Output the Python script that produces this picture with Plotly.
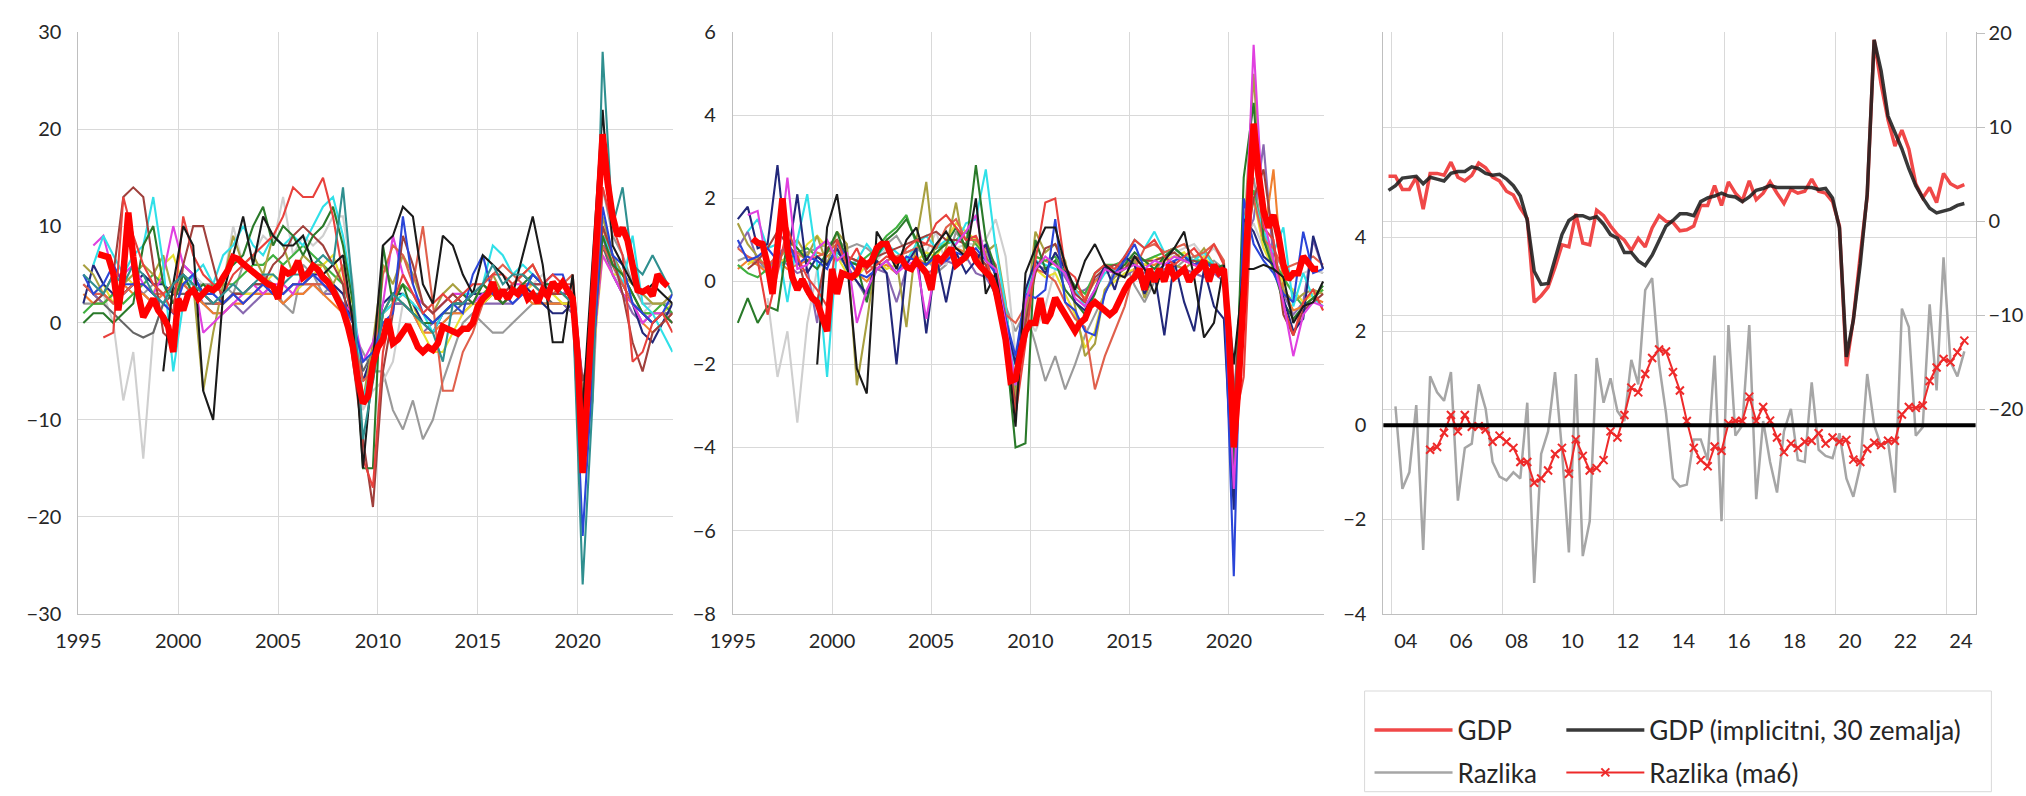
import plotly.graph_objects as go

# ---------------- data ----------------
YEARS = list(range(1995, 2025))
HALF_X = [y + h for y in YEARS for h in (0.25, 0.75)]          # semi-annual points
Q_X = [1996 + k / 4 for k in range(115)]                        # 1996Q1 .. 2024Q3

P1_TICKS = [1995, 2000, 2005, 2010, 2015, 2020]
P1_TICKTEXT = ["1995", "2000", "2005", "2010", "2015", "2020"]

# Panel 1: y/y growth by country (semi-annual readings)
p1_black = [None, None, None, None, None, None, None, None, -5, 4,
            10, 8, -7, -10, 3, 7, 11, 6, 11, 9,
            8, 8, 9, 6, 5, 6, 7, 0, -15, -4,
            8, 9, 12, 11, 4, 2, 9, 8, 5, 3,
            7, 6, 5, 3, 7, 11, 6, -2, -2, 5,
            -9, 6, 22, 8, 6, 4, 3, 4, 3, 2]
p1_teal = [5, 4, 3, 5, 4, 6, 5, 3, 2, 4,
           5, 4, 3, 2, 3, 4, 3, 4, 5, 5,
           4, 5, 5, 6, 7, 6, 14, 3, -12, -6,
           1, 3, 2, 1, 0, -1, -4, 2, 2, 3,
           4, 6, 4, 5, 5, 4, 3, 4, 3, 2,
           -27, -8, 28, 10, 14, 6, 5, 7, 5, 3]
p1_blue = [5, 3, 4, 6, 4, 4, 4, 3, 2, 1,
           4, 5, 3, 3, 2, 3, 2, 3, 4, 3,
           3, 4, 4, 5, 4, 3, 2, 0, -4, -3,
           0, 1, 11, 4, 1, 0, 1, 2, 1, 5,
           7, 3, 3, 2, 3, 5, 4, 5, 5, 2,
           -22, -5, 12, 7, 6, 2, 1, 0, 1, 3]
p1_red = [None, None, -1.5, -1, 13, 9, 6, 4, 3, 1,
          11, 7, 5, 4, 3, 5, 6, 7, 8, 9,
          11, 14, 13, 13, 15, 11, 5, 0, -14, -17,
          -3, 2, 5, 3, 1, 2, 3, 2, 3, 4,
          4, 5, 5, 4, 5, 6, 4, 5, 4, 4,
          -10, -2, 14, 10, 7, -4, -3, 0, 1, -1]
p1_tomato = [4, 3, 3, 2, 3, 4, 4, 3, 3, 4,
             4, 3, 3, 2, 2, 3, 2, 3, 4, 4,
             3, 4, 4, 4, 4, 3, 2, -1, -6, -5,
             5, 8, 7, 4, 10, 2, -7, -7, -3, -1,
             2, 5, 6, 5, 4, 4, 3, 3, 4, 5,
             -7, -3, 8, 6, 4, 2, 1, 0, 1, 0]
p1_brown = [None, 2, 3, 5, 13, 14, 13, 6, -1, -2,
            6, 10, 10, 6, 2, 3, 3, 4, 4, 6,
            7, 9, 10, 9, 8, 6, 4, -4, -12, -19,
            -5, 1, 9, 6, 2, 1, 2, 3, 2, 3,
            4, 3, 3, 4, 5, 4, 4, 3, 3, 3,
            -6, -2, 10, 7, 3, -2, -5, -1, 0, 1]
p1_dgreen = [0, 1, 1, 0, 1, 2, 8, 10, 4, 2,
             5, 3, 4, 3, 5, 6, 7, 10, 12, 8,
             10, 9, 7, 9, 10, 12, 8, 2, -15, -15,
             8, 2, 4, 1, 0, 0, 1, 2, 3, 2,
             4, 3, 2, 3, 4, 5, 4, 4, 4, 3,
             -8, -2, 9, 6, 5, 3, 1, 0, 1, 0]
p1_cyan = [None, 6, 9, 7, 5, 7, 8, 13, 6, -5,
           2, 5, 6, 4, 7, 8, 10, 8, 7, 9,
           8, 9, 8, 10, 12, 13, 9, 3, -8, -4,
           1, 2, 3, 2, 1, -1, 1, 2, 3, 3,
           4, 8, 7, 5, 6, 5, 4, 4, 4, 3,
           -9, -3, 9, 7, 4, 9, 2, 1, -1, -3]
p1_magenta = [None, 8, 9, 5, 5, 6, 4, 3, 5, 10,
              6, 5, -1, 0, 1, 2, 3, 4, 3, 4,
              4, 3, 5, 6, 4, 3, 2, 1, -4, -2,
              2, 9, 5, 3, 2, 1, 2, 3, 3, 2,
              3, 3, 3, 4, 4, 4, 4, 3, 3, 4,
              -6, -3, 7, 5, 3, 2, 0, 1, 1, 0]
p1_lgray = [None, None, 3, 0, -8, -3, -14, -1, 2, 3,
            4, 5, 4, 3, 4, 10, 6, 7, 9, 8,
            13, 7, 9, 8, 9, 11, 11, 4, -9, -7,
            -6, -4, 2, 1, 0, -1, 1, 2, 3, 4,
            4, 3, 3, 4, 4, 4, 5, 3, 4, 3,
            -8, -3, 8, 6, 3, 2, 1, 2, 2, 1]
p1_gray = [2, 2, 3, 2, 3, 4, 3, 4, 3, 4,
           4, 4, 4, 4, 4, 3, 6, 5, 5, 4,
           2, 1, 6, 5, 3, 4, 2, -1, -3, -5,
           -5, -9, -11, -8, -12, -10, -6, -3, 0, 1,
           0, -1, -1, 0, 1, 2, 2, 2, 2, 1,
           -14, -8, 14, 9, 7, 4, 2, 2, 2, 2]
p1_olive = [6, 5, 3, 2, 4, 5, 6, 5, 7, 3,
            5, 4, -7, -1, 4, 9, 6, 7, 5, 9,
            8, 5, 7, 6, 6, 4, 6, 0, -8, -2,
            6, 4, 7, 5, 2, 1, 3, 4, 3, 2,
            4, 5, 3, 4, 5, 6, 4, 3, 3, 2,
            -10, -4, 11, 7, 5, 4, 3, 2, 2, 3]
p1_yellow = [None, 3, 4, 2, 5, 4, 4, 3, 6, 7,
             4, 3, 3, 2, 2, 3, 3, 3, 4, 5,
             4, 3, 4, 5, 6, 7, 4, 2, -8, -5,
             1, 2, 3, 2, -1, -3, -3, -1, 1, 2,
             2, 3, 2, 3, 3, 4, 3, 3, 2, 2,
             -9, -4, 7, 5, 5, 3, 1, 1, 1, 2]
p1_purple = [4, 3, 2, 3, 3, 4, 3, 2, 3, 4,
             5, 4, 2, 1, 1, 2, 1, 2, 3, 3,
             2, 3, 3, 4, 3, 3, 1, -2, -6, -4,
             1, 2, 2, 1, -1, 0, 0, 1, 1, 2,
             2, 2, 2, 2, 3, 3, 2, 2, 2, 1,
             -11, -3, 9, 5, 3, 1, 0, 1, 1, 1]
p1_orange = [3, 2, 2, 3, 4, 3, 3, 2, 3, 4,
             4, 3, 2, 1, 1, 2, 2, 3, 3, 3,
             2, 3, 3, 4, 3, 2, 1, -1, -6, -5,
             1, 3, 2, 1, -1, -1, 0, 1, 1, 2,
             2, 3, 2, 3, 3, 2, 2, 2, 2, 2,
             -12, -4, 10, 6, 4, 2, 0, -1, 0, 1]
p1_navy = [2, 6, 4, 3, 3, 4, 5, 4, 4, 3,
           6, 5, 3, 2, 2, 3, 3, 4, 4, 3,
           3, 4, 4, 5, 5, 4, 3, 0, -6, -3,
           2, 3, 3, 2, 0, -1, 1, 2, 2, 3,
           3, 3, 2, 3, 4, 3, 2, 1, 1, 2,
           -10, -3, 8, 6, 4, 2, -1, -2, 0, 2]
p1_green = [1, 2, 2, 3, 2, 3, 4, 5, 4, 3,
            4, 5, 3, 4, 4, 4, 5, 6, 6, 7,
            6, 7, 8, 7, 6, 5, 4, 1, -8, -6,
            1, 3, 4, 3, 1, 0, 1, 2, 2, 3,
            3, 4, 3, 4, 5, 4, 4, 4, 4, 3,
            -7, -2, 9, 7, 5, 3, 1, 1, 2, 1]
p1_dgray = [None, 3, 2, 1, 0, -1, -1.5, -1, 2, 3,
            3, 3, 2, 2, 2, 3, 3, 3, 3, 4,
            3, 4, 4, 4, 4, 3, 2, 0, -5, -3,
            1, 2, 2, 1, 0, 0, 1, 1, 2, 2,
            2, 3, 3, 3, 3, 3, 3, 2, 2, 2,
            -8, -3, 8, 5, 3, 2, 1, 1, 1, 1]

# Panel 1: aggregate GDP y/y (quarterly, 1996Q1 .. 2024Q3)
p1_gdp = [7.1, 6.9, 6.8, 5.1, 1.3, 5.1, 11.4, 6.8, 3.0, 0.6, 1.7, 2.5,
          1.3, 0.6, -0.4, -3.0, 2.5, 1.3, 3.0, 3.4, 2.5, 3.0, 3.6, 3.4,
          3.8, 4.7, 5.5, 6.8, 6.6, 6.1, 5.7, 5.1, 4.9, 4.4, 4.0, 3.8,
          2.5, 5.5, 5.1, 5.3, 6.4, 4.7, 5.1, 5.9, 5.5, 4.7, 4.2, 3.4,
          2.5, 1.3, -0.4, -2.5, -5.9, -8.3, -7.6, -4.2, -2.5, -1.7, 0.4, -2.1,
          -1.7, -0.8, -0.2, -1.3, -2.5, -3.0, -2.5, -2.8, -2.1, -0.4, -0.6, -0.8,
          -1.1, -0.6, -0.6, 0.0, 1.7, 2.5, 3.0, 4.2, 2.5, 3.4, 2.5, 3.4,
          3.0, 3.8, 2.5, 3.0, 2.1, 3.4, 2.8, 4.2, 3.5, 4.2, 3.3, 2.5,
          -3.5, -15.5, -7.0, 2.0, 11.0, 19.5, 14.5, 11.0, 9.0, 9.8, 8.5, 5.5,
          3.4, 3.2, 3.5, 2.8, 5.0, 4.3, 3.8]

# Panel 2: q/q growth by country (semi-annual readings)
p2_black = [None, None, None, None, None, None, None, None, -2.0, 1.3,
            2.1, 0.5, -2.1, -2.7, 1.2, 0.8, 0.3, 1.0, 1.3, 0.5,
            0.9, 1.2, 0.8, 0.6, 2.0, -0.3, 0.2, -1.2, -3.5, 0.2,
            0.8, 1.3, 1.3, 0.4, -0.2, 0.5, 0.9, 0.4, 0.2, 0.1,
            0.6, 0.3, -0.3, 0.5, 0.8, 1.2, 0.1, -1.35, -1.0, 0.4,
            -2.0, 0.3, 0.3, 0.4, 0.3, 0.1, -1.0, -0.6, -0.5, 0.0]
p2_navy = [1.5, 1.8, 0.8, 0.9, 2.8, 0.5, 2.1, 0.2, 0.6, 0.4,
           0.8, 0.3, 0.0, -0.3, 0.5, 0.2, -2.0, 0.4, 0.8, -1.25,
           0.6, -0.5, 0.7, 0.2, 0.5, 0.9, 0.1, -0.9, -2.0, -0.2,
           0.5, 0.2, 0.7, 0.3, -0.5, -0.7, -0.2, 0.4, -0.2, 0.6,
           0.4, -0.3, 0.2, -1.3, 0.5, -0.5, -1.2, 0.3, -0.6, -0.9,
           -5.5, 1.5, 1.2, 0.6, 0.4, -0.4, -1.2, -0.9, 1.1, 0.3]
p2_blue = [1.0, 0.5, 0.6, 0.8, 0.5, 1.0, 0.4, 0.6, 0.5, 0.3,
           0.9, 0.6, 0.2, 0.1, 0.3, 0.5, 0.2, 0.6, 0.5, 0.4,
           0.6, 0.5, 0.7, 0.6, 0.8, 0.5, 0.2, -0.9, -1.8, -0.3,
           -0.4, -0.2, 1.5, -0.5, -0.7, -1.2, -1.3, -0.3, 0.2, 0.5,
           0.9, 0.3, 0.2, 0.4, 0.5, 0.6, 0.4, 0.5, 0.3, 0.1,
           -7.1, 2.0, 0.9, 0.5, 0.2, -0.3, -0.5, 1.2, 0.2, 0.3]
p2_magenta = [None, 1.6, 1.7, 0.3, 0.4, 2.5, 0.3, 0.4, 0.8, 1.0,
              0.5, 0.7, -1.0, -0.2, 0.3, 0.5, 0.2, 0.4, 0.5, -0.9,
              0.4, 0.6, 0.9, 1.2, 1.6, 0.5, 0.3, -1.0, -2.5, -0.5,
              0.3, 0.6, 0.4, 0.2, -0.4, -0.6, -0.2, 0.3, 0.2, 0.3,
              0.4, 0.3, 0.5, 0.4, 0.6, 0.5, 0.4, 0.3, 0.2, 0.3,
              -5.0, 0.0, 5.7, 1.5, 0.5, -0.5, -1.8, -0.8, -0.5, -0.6]
p2_cyan = [None, 1.2, 1.5, 0.8, 0.9, -0.5, 1.0, 2.1, 0.4, -2.3,
           0.8, 0.3, 0.5, 0.9, 0.6, 0.9, 0.7, 0.5, 0.9, 1.1,
           0.8, 1.0, 0.9, 1.4, 1.5, 2.7, 0.8, -0.6, -2.5, -0.3,
           0.5, 0.4, 0.3, 0.2, -0.2, -0.6, -0.2, 0.2, 0.3, 0.6,
           1.0, 0.8, 1.2, 0.7, 0.8, 0.6, 0.5, 0.7, 0.4, 0.3,
           -4.0, 1.5, 2.0, 1.2, 0.7, 1.3, -0.6, 0.2, -0.4, -0.6]
p2_lgray = [None, None, None, -0.4, -2.3, -1.2, -3.4, -1.0, 0.3, 0.5,
            0.6, 0.4, 0.5, 0.3, 0.5, 0.8, 0.6, 0.4, 0.9, 0.7,
            1.2, 0.4, 0.8, 0.9, 0.9, 1.0, 1.5, 0.6, -1.8, -0.8,
            -1.2, -0.6, 0.3, 0.2, -0.2, -0.4, 0.2, 0.3, 0.4, 0.5,
            0.7, 0.5, 0.6, 0.5, 0.7, 0.8, 0.9, 0.6, 0.8, 0.5,
            -3.0, 1.0, 1.4, 0.8, 0.4, 0.3, 0.1, 0.2, 0.3, 0.2]
p2_gray = [0.5, 0.6, 0.4, 0.3, 0.7, 0.8, 0.6, 0.7, 0.8, 0.9,
           1.0, 0.8, 0.9, 0.8, 0.6, 0.9, 1.1, 0.7, 0.8, 0.6,
           0.2, 0.4, 1.2, 0.8, 0.5, 0.7, 0.3, -0.6, -1.2, -0.7,
           -1.5, -2.4, -1.8, -2.6, -2.0, -1.3, -0.8, -0.3, 0.3, 0.5,
           -0.1, -0.5, 0.0, 0.3, 0.3, 0.5, 0.6, 0.4, 0.5, 0.3,
           -4.5, 1.5, 2.5, 1.0, 0.7, 0.3, 0.1, 0.5, 0.3, 0.2]
p2_red = [None, None, 0.5, -0.8, 0.2, 1.3, 0.6, 0.1, -0.2, -0.6,
          1.0, 0.4, 0.8, 0.2, 0.4, 0.6, 0.5, 0.8, 1.0, 0.9,
          1.4, 1.6, 1.3, 1.0, 1.1, 0.6, -0.3, -1.3, -3.2, -1.5,
          0.5, 1.9, 2.0, 0.3, 0.1, -0.5, 0.2, 0.4, 0.3, 0.6,
          1.0, 0.8, 1.0, 0.6, 0.4, 0.6, 0.8, 0.5, 0.9, 0.4,
          -3.5, -2.3, 3.0, 1.3, 1.0, -0.6, -1.3, -0.5, -0.2, -0.7]
p2_tomato = [0.8, 0.6, 0.5, 0.4, 0.6, 0.8, 0.7, 0.5, 0.6, 0.7,
             0.9, 0.6, 0.5, 0.4, 0.3, 0.5, 0.6, 0.7, 0.8, 0.9,
             0.8, 1.3, 1.5, 1.0, 1.0, 0.8, 0.4, -0.8, -1.0, -0.6,
             0.3, 0.2, 0.0, -0.5, -0.9, -1.1, -2.6, -1.8, -1.2, -0.6,
             0.3, 0.8, 0.9, 0.7, 0.8, 0.9, 0.6, 0.7, 0.9, 0.5,
             -4.0, 1.0, 2.0, 1.0, 0.8, 0.3, 0.4, 0.5, 0.6, 0.4]
p2_dgreen = [-1.0, -0.4, -1.0, -0.6, -0.7, 1.0, 0.8, 0.5, 0.3, 0.7,
             1.2, 0.5, 0.4, -0.5, 0.6, 1.0, 1.2, 1.5, 1.0, 0.4,
             0.7, 0.9, 1.3, 0.8, 2.8, 1.0, 0.3, -1.5, -4.0, -3.9,
             1.0, 0.3, 0.5, -0.2, -0.5, -0.8, -0.3, 0.4, 0.2, 0.4,
             0.7, 0.5, 0.3, 0.6, 0.8, 0.6, 0.4, 0.5, 0.3, 0.4,
             -4.5, 2.5, 4.3, 1.0, 0.3, -0.5, -0.9, -0.6, -0.4, -0.1]
p2_olive = [1.4, 0.9, 0.6, 0.3, 0.5, 0.8, 1.0, 0.6, 1.1, 0.4,
            1.2, 0.9, -2.5, -1.0, 0.7, 1.0, 0.5, -1.1, 1.0, 2.4,
            0.2, 0.8, 1.9, 0.5, 1.0, 0.7, 0.9, -0.5, -2.8, -1.0,
            1.2, 0.7, 0.9, 0.5, -0.6, -1.8, -1.5, -0.2, 0.1, 0.3,
            0.5, -0.4, 0.2, 0.6, 0.4, 0.3, 0.5, 0.8, 0.4, 0.2,
            -4.0, 1.0, 5.0, 1.2, 0.4, -0.2, -0.5, -0.3, -0.2, -0.3]
p2_yellow = [None, 0.4, 0.6, 0.3, 0.4, 0.6, 0.5, 0.9, 1.1, 0.8,
             0.6, 0.2, 0.1, 0.4, 0.5, 0.3, 0.4, 0.6, 0.5, 0.7,
             0.6, 1.0, 1.4, 1.2, 1.0, 0.6, 0.2, -0.7, -3.2, -1.0,
             0.3, 0.1, 0.2, -0.3, -0.8, -1.6, -1.2, -0.2, 0.0, 0.2,
             0.3, 0.4, 0.6, 0.5, 0.6, 0.7, 0.4, 0.6, 0.3, 0.2,
             -3.5, 0.8, 2.0, 0.8, 0.3, 0.0, -0.2, -0.5, -0.3, -0.2]
p2_purple = [0.8, 1.2, 0.5, 0.3, 0.6, 0.4, 0.2, 0.3, -1.0, 0.8,
             0.6, 0.4, 0.0, -0.4, 0.3, 0.2, -0.5, 0.3, 0.4, 0.2,
             0.3, 0.5, 0.4, 0.6, 0.2, 0.1, -0.3, -1.2, -2.0, -0.3,
             0.4, 0.3, 0.5, 0.1, -0.3, -0.2, 0.0, 0.3, 0.2, 0.1,
             0.3, 0.2, 0.2, 0.3, 0.4, 0.3, 0.2, 0.1, 0.2, 0.0,
             -3.0, 1.0, 1.5, 3.3, 0.5, -0.3, -0.8, -0.5, 1.0, 0.3]
p2_orange = [0.3, 0.5, 0.4, 0.2, 0.5, 0.3, 0.4, 0.5, 0.7, 0.6,
             0.8, 0.5, 0.2, 0.0, 0.3, 0.4, 0.2, 0.5, 0.6, 0.4,
             0.5, 0.6, 0.8, 0.7, 0.6, 0.4, 0.0, -0.8, -3.0, -0.7,
             0.6, 0.5, 0.4, 0.2, -0.2, -0.4, 0.0, 0.2, 0.3, 0.4,
             0.5, 0.4, 0.4, 0.5, 0.6, 0.5, 0.4, 0.3, 0.3, 0.2,
             -4.5, 1.2, 2.0, 1.0, 2.7, -0.2, -0.7, -0.6, -0.4, -0.5]
p2_brown = [None, 0.3, 0.5, 0.8, 1.2, 0.9, 0.6, -0.3, -0.5, 0.8,
            1.0, 0.6, 0.5, 0.3, 0.6, 0.7, 0.8, 0.9, 1.0, 1.1,
            1.2, 1.0, 1.0, 0.9, 0.7, 0.4, -0.4, -1.3, -3.0, -1.0,
            0.2, 0.8, 0.9, 0.3, -0.3, -0.5, 0.1, 0.3, 0.4, 0.3,
            0.6, 0.5, 0.5, 0.6, 0.7, 0.5, 0.5, 0.4, 0.4, 0.3,
            -3.0, 0.5, 2.0, 2.7, 1.0, -0.8, -1.3, -0.7, -0.5, -0.3]
p2_green = [0.4, 0.2, 0.1, 0.3, 0.4, 0.5, 0.7, 0.8, 0.6, 0.4,
            0.7, 0.5, 0.4, 0.6, 0.8, 1.1, 1.3, 1.6, 0.9, 0.6,
            0.8, 0.9, 1.0, 1.2, 0.9, 0.6, 0.2, -0.9, -2.6, -0.6,
            0.6, 0.5, 0.6, 0.2, -0.1, -0.3, 0.2, 0.4, 0.4, 0.5,
            0.6, 0.5, 0.6, 0.7, 0.8, 0.6, 0.5, 0.5, 0.4, 0.3,
            -3.5, 1.5, 2.2, 1.0, 0.5, 0.1, -0.3, -0.6, -0.4, -0.2]

# Panel 2: aggregate GDP (quarterly, 1996Q1 .. 2024Q3)
p2_gdp = [1.03, 0.93, 0.9, 0.4, -0.3, 1.0, 2.0, 0.8, 0.1, -0.2, 0.05, -0.2,
          -0.4, -0.5, -0.8, -1.2, 0.3, -0.3, 0.2, 0.15, 0.1, 0.2, 0.5, 0.4,
          0.5, 0.8, 0.9, 0.9, 0.6, 0.5, 0.55, 0.35, 0.3, 0.5, 0.35, 0.2,
          -0.2, 0.6, 0.5, 0.65, 0.8, 0.4, 0.5, 0.6, 0.8, 0.5, 0.35, 0.2,
          0.1, -0.2, -0.8, -1.4, -2.4, -2.35, -1.7, -1.2, -1.0, -1.0, -0.4, -1.0,
          -0.8, -0.4, -0.6, -0.8, -1.0, -1.2, -1.0, -0.9, -0.6, -0.5, -0.6, -0.7,
          -0.8, -0.7, -0.4, -0.2, 0.0, 0.1, 0.3, -0.2, 0.3, 0.0, 0.3, 0.0,
          0.4, 0.1, 0.2, 0.3, 0.0, 0.2, 0.3, 0.5, 0.0, 0.4, 0.2, 0.3,
          -1.2, -4.0, -2.4, -0.4, 1.5, 3.8, 2.6, 1.7, 1.3, 1.6, 1.1, 0.4,
          0.05, 0.2, 0.2, 0.6, 0.45, 0.3, 0.3]

# Panel 3: quarterly 2003Q4 .. 2024Q3 (x = quarter centre)
Q3_X = [2003.875 + i / 4 for i in range(84)]
P3_TICKS = [2004.5 + 2 * j for j in range(11)]
P3_TICKTEXT = ["04", "06", "08", "10", "12", "14", "16", "18", "20", "22", "24"]
P3_GRID = [2004, 2008, 2012, 2016, 2020, 2024]

gdp = [4.8, 4.8, 3.4, 3.4, 4.7, 1.3, 5.1, 5.1, 4.9, 6.3,
       4.7, 4.3, 4.9, 6.2, 5.7, 4.7, 4.3, 3.2, 2.8, 1.4,
       0.3, -8.6, -7.9, -7.0, -4.9, -2.5, -2.7, 0.8, -2.3, -2.5,
       1.2, 0.6, -0.5, -1.4, -2.0, -3.1, -1.8, -2.7, -0.7, 0.6,
       0.0, -0.1, -1.0, -0.9, -0.5, 1.7, 1.7, 3.8, 1.7, 4.2,
       3.0, 2.2, 4.3, 2.3, 3.0, 4.2, 3.0, 1.9, 3.4, 3.0,
       3.2, 4.5, 3.2, 3.0, 2.1, -0.5, -15.4, -10.4, -3.6, 2.7,
       19.3, 14.6, 10.8, 8.0, 9.7, 7.7, 4.0, 2.5, 3.6, 2.0,
       5.1, 4.0, 3.6, 3.9]
gdp_impl = [3.3, 3.8, 4.6, 4.7, 4.8, 4.0, 4.7, 4.5, 4.3, 5.1,
            5.3, 5.3, 5.8, 5.6, 5.1, 4.9, 5.0, 4.5, 3.8, 2.7,
            0.1, -5.3, -6.7, -6.6, -4.0, -1.4, 0.1, 0.6, 0.6, 0.3,
            0.5, -0.3, -1.4, -1.8, -3.3, -3.3, -4.2, -4.7, -3.6, -2.0,
            -0.5, 0.1, 0.8, 0.8, 0.6, 2.1, 2.5, 2.7, 3.0, 2.7,
            2.6, 2.1, 2.6, 3.3, 3.5, 3.8, 3.6, 3.6, 3.6, 3.6,
            3.6, 3.6, 3.4, 3.5, 2.5, -0.7, -14.4, -10.5, -4.5, 2.9,
            19.3, 16.0, 11.2, 9.5, 7.7, 5.6, 3.8, 2.5, 1.4, 0.9,
            1.1, 1.3, 1.7, 1.9]
razlika = [None, 0.4, -1.35, -1.0, 0.43, -2.65, 1.04, 0.7, 0.52, 1.13,
           -1.6, -0.48, -0.39, 0.87, 0.35, -0.78, -1.09, -1.17, -1.0, -1.13,
           0.48, -3.35, -0.61, -0.13, 1.13, -0.52, -2.7, 1.09, -2.78, -2.04,
           1.43, 0.48, 1.0, 0.3, 0.09, 1.39, 0.87, 2.87, 3.13, 1.3,
           0.26, -1.13, -1.3, -1.26, -0.3, -0.3, -0.74, 1.48, -2.04, 2.13,
           -0.22, 0.0, 2.13, -1.57, 0.09, -0.78, -1.43, -0.13, 0.35, -0.74,
           -0.78, 0.91, -0.52, -0.65, -0.7, -0.17, -1.13, -1.52, -0.87, 1.09,
           0.0, -0.43, -0.35, -1.43, 2.48, 2.09, -0.22, -0.04, 2.57, 0.74,
           3.57, 1.35, 1.04, 1.57]
razlika_ma6 = [None, None, None, None, None, None, -0.52, -0.46, -0.16, 0.22,
               -0.13, 0.22, -0.03, -0.02, -0.09, -0.35, -0.22, -0.35, -0.48, -0.78,
               -0.78, -1.22, -1.13, -0.96, -0.61, -0.48, -1.03, -0.3, -0.65, -0.96,
               -0.91, -0.74, -0.13, -0.26, 0.22, 0.8, 0.7, 1.09, 1.43, 1.61,
               1.57, 1.13, 0.74, 0.09, -0.48, -0.74, -0.87, -0.45, -0.54, 0.04,
               0.09, 0.09, 0.61, 0.09, 0.39, 0.1, -0.26, -0.57, -0.39, -0.48,
               -0.35, -0.33, -0.17, -0.39, -0.26, -0.35, -0.31, -0.73, -0.78, -0.5,
               -0.37, -0.42, -0.33, -0.33, 0.23, 0.39, 0.37, 0.42, 0.94, 1.23,
               1.41, 1.34, 1.55, 1.8]

# ---------------- figure ----------------
W, H = 2026, 796
FONT = "Lato, Carlito, 'Liberation Sans', sans-serif"
TXT = "#262626"
GRID = "#d9d9d9"
AXL = "#bfbfbf"

fig = go.Figure()

p1_series = [
    (p1_gray, "#9a9a9a"), (p1_lgray, "#cfcfcf"), (p1_dgray, "#666666"),
    (p1_purple, "#8868b0"), (p1_orange, "#f08030"), (p1_yellow, "#e8e030"),
    (p1_green, "#40b040"), (p1_navy, "#22287a"), (p1_olive, "#a8a040"),
    (p1_magenta, "#e040e0"), (p1_cyan, "#30e0e8"), (p1_tomato, "#e0604c"),
    (p1_brown, "#a0403c"), (p1_dgreen, "#2a7a2a"), (p1_blue, "#2a45d8"),
    (p1_red, "#e8413c"), (p1_black, "#1a1a1a"), (p1_teal, "#2f8f8f"),
]
p2_series = [
    (p2_gray, "#9a9a9a"), (p2_lgray, "#cfcfcf"), (p2_purple, "#8868b0"),
    (p2_orange, "#f08030"), (p2_yellow, "#e8e030"), (p2_green, "#40b040"),
    (p2_olive, "#a8a040"), (p2_cyan, "#30e0e8"), (p2_tomato, "#e0604c"),
    (p2_brown, "#a0403c"), (p2_dgreen, "#2a7a2a"), (p2_navy, "#22287a"),
    (p2_blue, "#2a45d8"), (p2_red, "#e8413c"), (p2_magenta, "#e040e0"),
    (p2_black, "#1a1a1a"),
]

for vals, col in p1_series:
    fig.add_trace(go.Scatter(x=HALF_X, y=vals, mode="lines", line=dict(color=col, width=2.1),
                             showlegend=False, hoverinfo="skip", xaxis="x", yaxis="y"))
fig.add_trace(go.Scatter(x=Q_X, y=p1_gdp, mode="lines", line=dict(color="#ff0000", width=6.5),
                         showlegend=False, hoverinfo="skip", xaxis="x", yaxis="y"))

for vals, col in p2_series:
    fig.add_trace(go.Scatter(x=HALF_X, y=vals, mode="lines", line=dict(color=col, width=2.1),
                             showlegend=False, hoverinfo="skip", xaxis="x2", yaxis="y2"))
fig.add_trace(go.Scatter(x=Q_X, y=p2_gdp, mode="lines", line=dict(color="#ff0000", width=6.5),
                         showlegend=False, hoverinfo="skip", xaxis="x2", yaxis="y2"))

# panel 3 (each legend entry gets its own legend box so rows/columns can be placed)
fig.add_trace(go.Scatter(x=Q3_X, y=razlika, mode="lines", name="Razlika",
                         line=dict(color="#a6a6a6", width=2.5), legend="legend3",
                         xaxis="x3", yaxis="y3"))
fig.add_trace(go.Scatter(x=Q3_X, y=razlika_ma6, mode="lines+markers", name="Razlika (ma6)",
                         line=dict(color="#ee2a2a", width=2),
                         marker=dict(symbol="x-thin", size=8, line=dict(color="#ee2a2a", width=2)),
                         legend="legend4", xaxis="x3", yaxis="y3"))
fig.add_trace(go.Scatter(x=Q3_X, y=gdp, mode="lines", name="GDP",
                         line=dict(color="#f04848", width=3.5), legend="legend",
                         xaxis="x3", yaxis="y4"))
fig.add_trace(go.Scatter(x=Q3_X, y=gdp_impl, mode="lines", name="GDP (implicitni, 30 zemalja)",
                         line=dict(color="rgba(30,30,30,0.88)", width=3.5), legend="legend2",
                         xaxis="x3", yaxis="y4"))

YDOM = [(H - 620) / H, (H - 20) / H]
tickfont = dict(family=FONT, size=20, color=TXT)

def xax(dom, rng, tv, tt):
    return dict(domain=dom, range=rng, tickvals=tv, ticktext=tt, showgrid=True, gridcolor=GRID,
                gridwidth=1, zeroline=False, showline=True, linecolor=AXL, linewidth=1,
                ticks="", tickfont=tickfont, ticklabelstandoff=9, fixedrange=True)

def yax(rng, tv, anchor):
    return dict(domain=YDOM, range=rng, tickvals=tv, showgrid=True, gridcolor=GRID, gridwidth=1,
                zeroline=False, showline=True, linecolor=AXL, linewidth=1, ticks="",
                tickfont=tickfont, ticklabelstandoff=12, anchor=anchor, fixedrange=True)

legfont = dict(family=FONT, size=26, color=TXT)

def leg(xpx, ypx):
    return dict(x=xpx / W, y=(H - ypx) / H, xanchor="left", yanchor="top", orientation="v",
                bgcolor="rgba(0,0,0,0)", font=legfont, itemwidth=78, traceorder="normal")

fig.update_layout(
    width=W, height=H, autosize=False,
    margin=dict(l=0, r=0, t=0, b=0),
    paper_bgcolor="white", plot_bgcolor="white",
    font=dict(family=FONT, color=TXT),
    xaxis=xax([56 / W, 657 / W], [1995, 2024.75], P1_TICKS, P1_TICKTEXT) | dict(anchor="y"),
    yaxis=yax([-30, 30], [-30, -20, -10, 0, 10, 20, 30], "x"),
    xaxis2=xax([718 / W, 1316 / W], [1995, 2024.8], P1_TICKS, P1_TICKTEXT) | dict(anchor="y2"),
    yaxis2=yax([-8, 6], [-8, -6, -4, -2, 0, 2, 4, 6], "x2"),
    xaxis3=xax([1376 / W, 1975 / W], [2003.69, 2025.03], P3_TICKS, P3_TICKTEXT)
    | dict(anchor="y3", showgrid=False,
           minor=dict(tickvals=P3_GRID, showgrid=True, gridcolor=GRID, gridwidth=1, ticks="")),
    yaxis3=yax([-4, 8.35], [-4, -2, 0, 2, 4], "x3"),
    yaxis4=yax([-41.7, 20.1], [-20, -10, 0, 10, 20], "x3")
    | dict(overlaying="y3", side="right", ticks="outside", ticklen=8, tickcolor=AXL,
           ticklabelstandoff=0),
    legend=leg(1362, 716),
    legend2=leg(1556, 716),
    legend3=leg(1362, 760),
    legend4=leg(1556, 760),
    shapes=[
        dict(type="line", xref="x3 domain", x0=0, x1=1, yref="y3", y0=0, y1=0,
             line=dict(color="black", width=4), layer="above"),
        dict(type="rect", xref="paper", yref="paper", x0=1357 / W, x1=1991 / W,
             y0=-0.01, y1=(H - 700) / H, line=dict(color="#d9d9d9", width=1),
             fillcolor="rgba(0,0,0,0)", layer="above"),
    ],
    showlegend=True,
)

fig.write_html("out.html", include_plotlyjs=True, config={"displayModeBar": False},
               post_script="document.body.style.margin='0px';document.body.style.overflow='hidden';")
